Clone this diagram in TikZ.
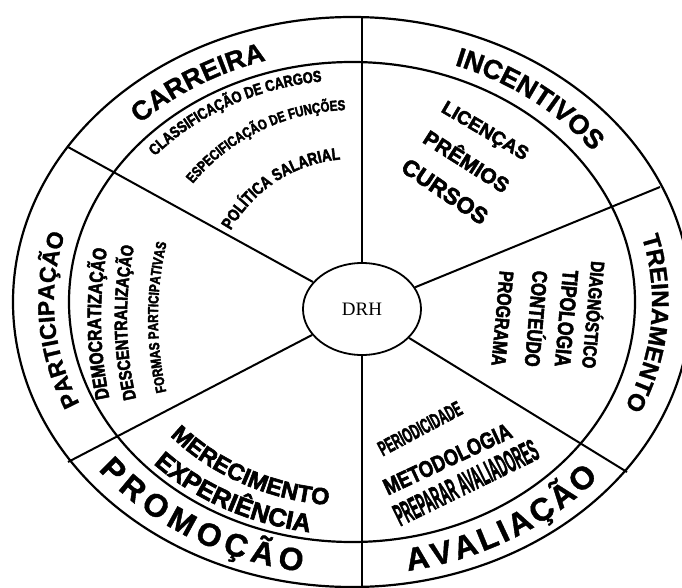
\documentclass[tikz,border=0pt]{standalone}
\usepackage{fontspec}
\usetikzlibrary{shapes.geometric,decorations.text}
\newfontfamily\hubfont{Liberation Serif}
\newfontfamily\ringsans{Liberation Sans Bold}[FakeBold=1.2]
\newfontfamily\heavysans{Liberation Sans Bold}[FakeBold=2.5]
\newfontfamily\slimsans{Liberation Sans Bold}[FakeStretch=0.8, FakeBold=2.5]
\newcommand\fsz[1]{\fontsize{#1}{#1}\selectfont}
\newcommand\boldfont{\ringsans}
\newcommand\heavyfont{\heavysans}
\newcommand\slimfont{\slimsans}

\begin{document}
\begin{tikzpicture}[x=1pt, y=1pt,
  wheel/.style={line width=2.2pt},
  spoke/.style={line width=2pt},
  curved/.style={decorate, decoration={text along path, text={#1}}},
  fitted/.style={decorate, decoration={text along path, text align=fit to path, text={#1}}},
  tag/.style={inner sep=0pt}]
\useasboundingbox (-352,-285) rectangle (330,302);
% rings and hub
\draw[wheel] (0,0) ellipse[x radius=339, y radius=285];
\draw[wheel] (0,0) ellipse[x radius=283, y radius=240];
\node[draw, ellipse, line width=1.8pt, minimum width=118pt, minimum height=92pt, inner sep=0pt] (drh) at (10,-7) {\hubfont\fsz{19}DRH};
% spokes
\coordinate (rimN) at (10,286);
\coordinate (rimS) at (10,-290);
\coordinate (rimNW) at (-284,155);
\coordinate (rimSW) at (-284,-160);
\coordinate (rimNE) at (308,115);
\coordinate (rimSE) at (275,-170);
\draw[spoke] (drh) -- (rimN);
\draw[spoke] (drh) -- (rimS);
\draw[spoke] (drh) -- (rimNW);
\draw[spoke] (drh) -- (rimSW);
\draw[spoke] (drh) -- (rimNE);
\draw[spoke] (drh) -- (rimSE);
% ring labels
\path[curved={|\boldfont\fsz{27}|CARREIRA}] (135:300 and 252) arc[start angle=135, end angle=60, x radius=300, y radius=252];
\path[curved={|\boldfont\fsz{27}|INCENTIVOS}] (70:300 and 252) arc[start angle=70, end angle=-10, x radius=300, y radius=252];
\path[curved={|\boldfont\fsz{24}|TREINAMENTO}] (15:300 and 252) arc[start angle=15, end angle=-60, x radius=300, y radius=252];
\path[curved={|\boldfont\fsz{23}|PARTICIPAÇÃO}] (204:298 and 250) arc[start angle=204, end angle=130, x radius=298, y radius=250];
\path[fitted={|\boldfont\fsz{32}|PROMOÇÃO}] (-142:322 and 273) arc[start angle=-142, end angle=-99, x radius=322, y radius=273];
\path[fitted={|\boldfont\fsz{32}|AVALIAÇÃO}] (-80:322 and 273) arc[start angle=-80, end angle=-40, x radius=322, y radius=273];
% carreira
\path[curved={|\slimfont\fsz{16}|CLASSIFICAÇÃO DE CARGOS}] (139:261 and 222) arc[start angle=139, end angle=60, x radius=261, y radius=222];
\path[curved={|\slimfont\fsz{14.5}|ESPECIFICAÇÃO DE FUNÇÕES}] (142:202 and 192) arc[start angle=142, end angle=60, x radius=202, y radius=192];
\path[curved={|\slimfont\fsz{17}|POLÍTICA SALARIAL}] (150:140 and 143) arc[start angle=150, end angle=60, x radius=140, y radius=143];
% incentivos
\node[tag, rotate=-30.5] (licencas) at (132.5,170) {\heavyfont\fsz{19}LICENÇAS};
\node[tag, rotate=-32.4] (premios) at (115.5,142) {\heavyfont\fsz{21}PRÊMIOS};
\node[tag, rotate=-34] (cursos) at (93,110.5) {\heavyfont\fsz{23}CURSOS};
% treinamento
\node[tag, rotate=-95] (diagnostico) at (243,-13) {\slimfont\fsz{19}DIAGNÓSTICO};
\node[tag, rotate=-95] (tipologia) at (214.5,-16.5) {\slimfont\fsz{22}TIPOLOGIA};
\node[tag, rotate=-95] (conteudo) at (186,-17) {\slimfont\fsz{21}CONTEÚDO};
\node[tag, rotate=-95] (programa) at (150.5,-16.5) {\slimfont\fsz{20}PROGRAMA};
% avaliacao
\node[tag, rotate=28] (periodicidade) at (68,-126.5) {\heavyfont\fsz{21}\scalebox{0.55}[1]{PERIODICIDADE}};
\node[tag, rotate=25] (metodologia) at (95.5,-157) {\heavyfont\fsz{23}\scalebox{0.8}[1]{METODOLOGIA}};
\node[tag, rotate=26] (preparar) at (114,-180.5) {\heavyfont\fsz{31}\scalebox{0.39}[1]{PREPARAR AVALIADORES}};
% promocao
\path[curved={|\heavyfont\fsz{23.5}|MERECIMENTO}] (221:241 and 204) arc[start angle=221, end angle=290, x radius=241, y radius=204];
\path[curved={|\heavyfont\fsz{25.5}|EXPERIÊNCIA}] (224:276 and 233) arc[start angle=224, end angle=290, x radius=276, y radius=233];
% participacao
\path[curved={|\slimfont\fsz{19.5}|DEMOCRATIZAÇÃO}] ([shift={(134,-16)}]192:385) arc[start angle=192, end angle=140, radius=385];
\path[curved={|\slimfont\fsz{18}|DESCENTRALIZAÇÃO}] ([shift={(134,-16)}]193:359) arc[start angle=193, end angle=140, radius=359];
\path[curved={|\slimfont\fsz{14.5}|FORMAS PARTICIPATIVAS}] ([shift={(134,-16)}]193:328) arc[start angle=193, end angle=140, radius=328];
\end{tikzpicture}
\end{document}
